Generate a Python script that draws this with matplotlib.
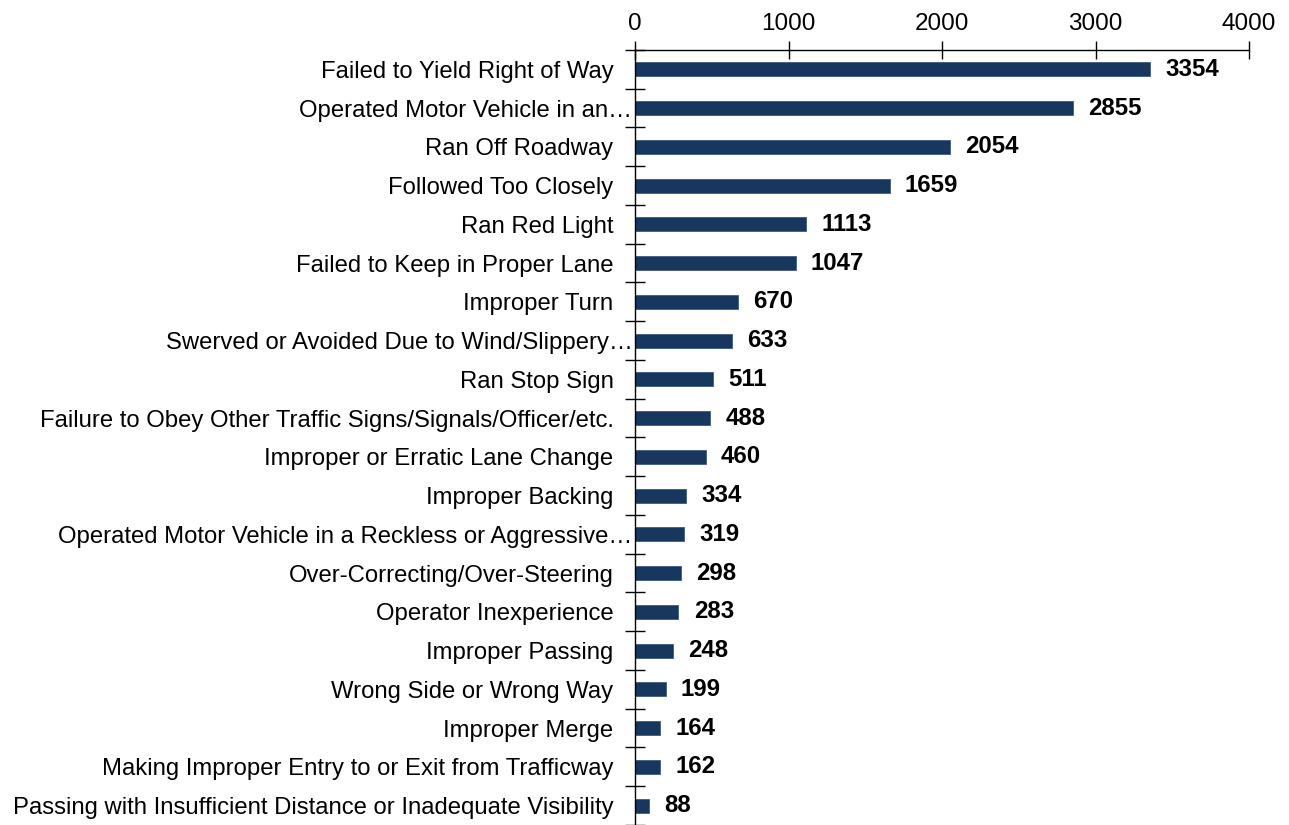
import matplotlib
matplotlib.use("Agg")
import matplotlib.pyplot as plt
import matplotlib.transforms as mtransforms
import numpy as np

plt.rcParams['font.family'] = ['Liberation Sans', 'DejaVu Sans']

categories = [
    "Failed to Yield Right of Way",
    "Operated Motor Vehicle in an\u2026",
    "Ran Off Roadway",
    "Followed Too Closely",
    "Ran Red Light",
    "Failed to Keep in Proper Lane",
    "Improper Turn",
    "Swerved or Avoided Due to Wind/Slippery\u2026",
    "Ran Stop Sign",
    "Failure to Obey Other Traffic Signs/Signals/Officer/etc.",
    "Improper or Erratic Lane Change",
    "Improper Backing",
    "Operated Motor Vehicle in a Reckless or Aggressive\u2026",
    "Over-Correcting/Over-Steering",
    "Operator Inexperience",
    "Improper Passing",
    "Wrong Side or Wrong Way",
    "Improper Merge",
    "Making Improper Entry to or Exit from Trafficway",
    "Passing with Insufficient Distance or Inadequate Visibility",
]
counts = [3354, 2855, 2054, 1659, 1113, 1047, 670, 633, 511, 488,
          460, 334, 319, 298, 283, 248, 199, 164, 162, 88]
xticks = [0, 1000, 2000, 3000, 4000]

fig = plt.figure(figsize=(12.89, 8.25), dpi=100)
ax = fig.add_axes([635 / 1289, 0.0, (1249 - 635) / 1289, 1 - 50 / 825])

y = np.arange(len(categories))
bars = ax.barh(y, counts, height=0.36, color='#17375E', edgecolor='#2E4D75', linewidth=0.5)

ax.set_xlim(0, 4000)
ax.set_ylim(len(categories) - 0.5, -0.5)
ax.xaxis.tick_top()
ax.set_xticks(xticks)
ax.tick_params(axis='x', direction='inout', length=13, width=1, labelsize=17.5, pad=4)

ax.set_yticks(y)
ax.set_yticklabels(categories, fontsize=17.2)
ax.tick_params(axis='y', which='major', length=0, pad=15.5)
ax.set_yticks(np.arange(len(categories) + 1) - 0.5, minor=True)
ax.tick_params(axis='y', which='minor', direction='inout', length=14, width=1)

# truncated labels run right up to the axis line
shift = mtransforms.ScaledTranslation(19 / 100, 0, fig.dpi_scale_trans)
for lbl in ax.get_yticklabels():
    if lbl.get_text().endswith('\u2026'):
        lbl.set_transform(lbl.get_transform() + shift)

for s in ['right', 'bottom']:
    ax.spines[s].set_visible(False)
for s in ['left', 'top']:
    ax.spines[s].set_linewidth(1)

for rect, v in zip(bars, counts):
    ax.annotate(str(v), xy=(rect.get_width(), rect.get_y() + rect.get_height() / 2),
                xytext=(11, 0), textcoords='offset points',
                ha='left', va='center', fontsize=17.3, fontweight='bold')

fig.savefig('out.png', dpi=100)
